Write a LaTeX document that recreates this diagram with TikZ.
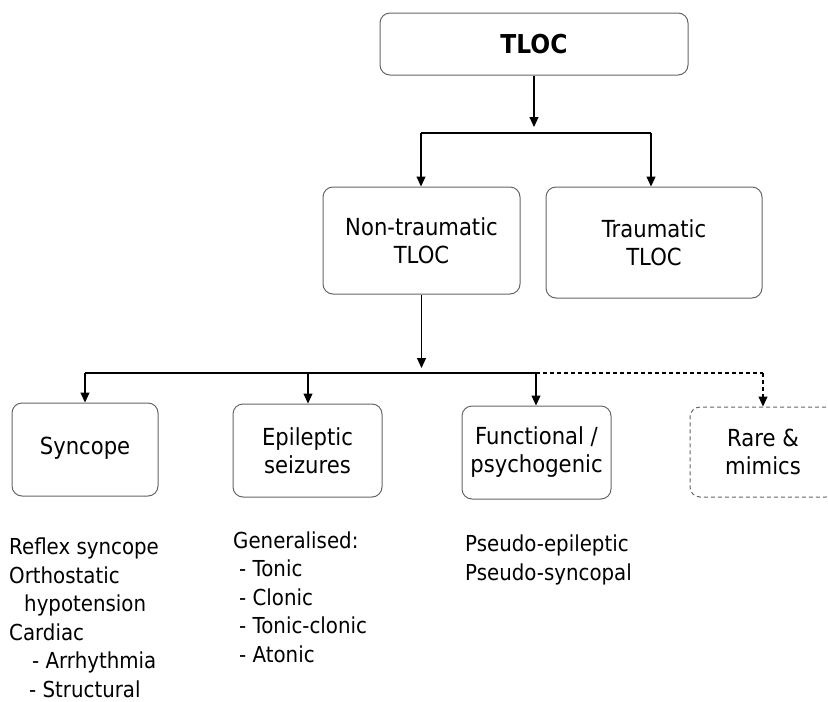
\documentclass[tikz,border=0pt]{standalone}
\usepackage{fontspec}
\setmainfont{DejaVu Sans}[FakeStretch=0.9]
\usepackage{xcolor}
\usepackage{tikz}
\usetikzlibrary{arrows.meta}

\definecolor{boxgray}{HTML}{666666}

\begin{document}
\begin{tikzpicture}[x=1pt, y=-1pt,
        box/.style={draw=boxgray, line width=1pt, rounded corners=10pt, align=center,
            font=\fontsize{23.5}{28}\selectfont, inner sep=0pt},
        tip/.style={-{Triangle[length=10pt, width=9pt]}},
        lst/.style={align=left, anchor=base west, inner sep=0pt, font=\fontsize{22}{28.5}\selectfont}]
        \useasboundingbox (0, 0) rectangle (828, 702);
        % boxes
        \node[box, minimum width=308, minimum height=62, font=\fontsize{26}{30}\selectfont\bfseries] (tloc) at (534, 44) {TLOC};
        \node[box, minimum width=197, minimum height=107] (nontr) at (421.5, 240.5) {Non-traumatic\\TLOC};
        \node[box, minimum width=216, minimum height=111] (trau) at (654, 242.5) {Traumatic\\TLOC};
        \node[box, minimum width=146, minimum height=93] (sync) at (85, 449.5) {\raisebox{7pt}{Syncope}};
        \node[box, minimum width=149, minimum height=93] (epi) at (307.5, 450.5) {Epileptic\\seizures};
        \node[box, minimum width=149, minimum height=93] (func) at (536.5, 452.5) {Functional /\\psychogenic};
        \node[box, dashed, dash pattern=on 4pt off 3pt, minimum width=146, minimum height=90] (rare) at (763, 452) {Rare \&\\mimics};
        % connectors
        \coordinate (tend) at (534, 127);
        \coordinate (topL) at (421, 133);
        \coordinate (topR) at (651, 133);
        \draw[tip, line width=1.1pt] (tloc.south) -- (tend);
        \draw[line width=1.1pt] (topL) -- (topR);
        \draw[tip, line width=1.1pt] (topL) -- (topL |- nontr.north);
        \draw[tip, line width=1.1pt] (topR) -- (topR |- trau.north);
        \coordinate (mend) at (421, 368);
        \coordinate (midA) at (85, 373);
        \coordinate (midB) at (308, 373);
        \coordinate (midC) at (536, 373);
        \coordinate (midD) at (763, 373);
        \draw[tip, line width=1.1pt] (nontr.south) -- (nontr.south |- mend);
        \draw[line width=1.1pt] (midA) -- (midC);
        \draw[line width=1.1pt, dash pattern=on 4pt off 3pt] (midC) -- (midD);
        \draw[tip, line width=1.1pt] (midA) -- (midA |- sync.north);
        \draw[tip, line width=1.1pt] (midB) -- (midB |- epi.north);
        \draw[tip, line width=1.1pt] (midC) -- (midC |- func.north);
        \draw[tip, line width=1.1pt, dash pattern=on 4pt off 3pt] (midD) -- (midD |- rare.north);
        % lists (placed by the baseline of their last line)
        \node[lst] (synclist) at (9, 697) {Reflex syncope\\Orthostatic\\\hspace{15pt}hypotension\\Cardiac\\\hspace{23pt}- Arrhythmia\\\hspace{20pt}- Structural};
        \node[lst] (epilist) at (233, 662) {Generalised:\\\hspace{6pt}- Tonic\\\hspace{6pt}- Clonic\\\hspace{6pt}- Tonic-clonic\\\hspace{6pt}- Atonic};
        \node[lst] (funclist) at (465, 580) {Pseudo-epileptic\\Pseudo-syncopal};
    \end{tikzpicture}
\end{document}
